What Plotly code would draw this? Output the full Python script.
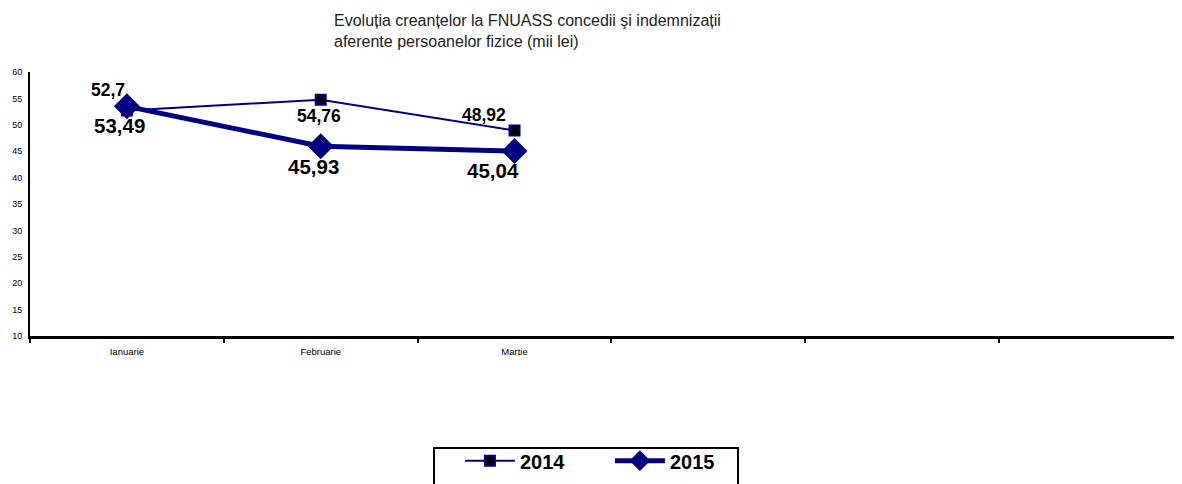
import plotly.graph_objects as go

categories = ["Ianuarie", "Februarie", "Martie", " ", "  ", "   "]
months = ["Ianuarie", "Februarie", "Martie"]
values_2014 = [52.7, 54.76, 48.92]
values_2015 = [53.49, 45.93, 45.04]
y_ticks = [10, 15, 20, 25, 30, 35, 40, 45, 50, 55, 60]

# label offsets (pixels) relative to each point
label_shift_2014 = [(-19, 21), (-2, -16), (-31, 16)]
label_shift_2015 = [(-7, -19), (-7, -20), (-22, -20)]

title_text = ("Evoluția creanțelor la FNUASS concedii şi indemnizații<br>"
              "aferente persoanelor fizice (mii lei)")

def fmt(v):
    return str(v).replace(".", ",")

NAVY = "#000080"
FONT = "Arial, Liberation Sans"

fig = go.Figure()
fig.add_trace(go.Scatter(
    x=months, y=values_2014, name="2014", mode="lines+markers",
    line=dict(color=NAVY, width=2),
    marker=dict(symbol="square", size=10, color="black", line=dict(color=NAVY, width=2)),
))
fig.add_trace(go.Scatter(
    x=months, y=values_2015, name="2015", mode="lines+markers",
    line=dict(color=NAVY, width=5),
    marker=dict(symbol="diamond", size=20, color=NAVY, line=dict(color=NAVY, width=0)),
))

annotations = [dict(
    text=title_text, xref="paper", yref="paper", x=0.262, y=1.235,
    xanchor="left", yanchor="top", align="left", showarrow=False,
    font=dict(size=16, color="#222222"),
)]
for m, v, (dx, dy) in zip(months, values_2014, label_shift_2014):
    annotations.append(dict(x=m, y=v, text=fmt(v), showarrow=False, xshift=dx, yshift=dy,
                            font=dict(family=FONT, size=17.5, color="black", weight="bold")))
for m, v, (dx, dy) in zip(months, values_2015, label_shift_2015):
    annotations.append(dict(x=m, y=v, text=fmt(v), showarrow=False, xshift=dx, yshift=dy,
                            font=dict(family=FONT, size=20.5, color="black", weight="bold")))

fig.update_layout(
    template="none",
    width=1174, height=476,
    margin=dict(l=22, r=0, t=64, b=148, autoexpand=False),
    paper_bgcolor="white", plot_bgcolor="white",
    font=dict(family=FONT, color="black"),
    xaxis=dict(
        type="category", categoryorder="array", categoryarray=categories,
        range=[-0.5, 5.444], tickmode="array", tickvals=categories,
        tickson="boundaries", ticks="outside", ticklen=4, tickwidth=2, tickcolor="black",
        showline=True, linecolor="black", linewidth=3, showgrid=False, zeroline=False,
        tickfont=dict(size=9.5, color="black"), ticklabelstandoff=5, automargin=False,
    ),
    yaxis=dict(
        range=[10, 60], tickvals=y_ticks, ticks="", showline=True, linecolor="black",
        linewidth=2, showgrid=False, zeroline=False, automargin=False,
        tickfont=dict(size=9, color="black"), ticklabelstandoff=4,
    ),
    showlegend=True,
    legend=dict(
        orientation="h", x=0.5034, xanchor="center", y=-0.3985, yanchor="top",
        borderwidth=0, bgcolor="rgba(0,0,0,0)",
        font=dict(size=20, color="black", weight="bold"),
        itemwidth=50, entrywidthmode="pixels", entrywidth=85,
    ),
    shapes=[dict(
        type="rect", xref="paper", yref="paper",
        x0=(434 - 30) / 1152, x1=(738 - 30) / 1152, y0=-0.4242, y1=-0.62,
        line=dict(color="black", width=2), fillcolor="rgba(0,0,0,0)", layer="below",
    )],
    annotations=annotations,
)

fig.write_html("out.html")
